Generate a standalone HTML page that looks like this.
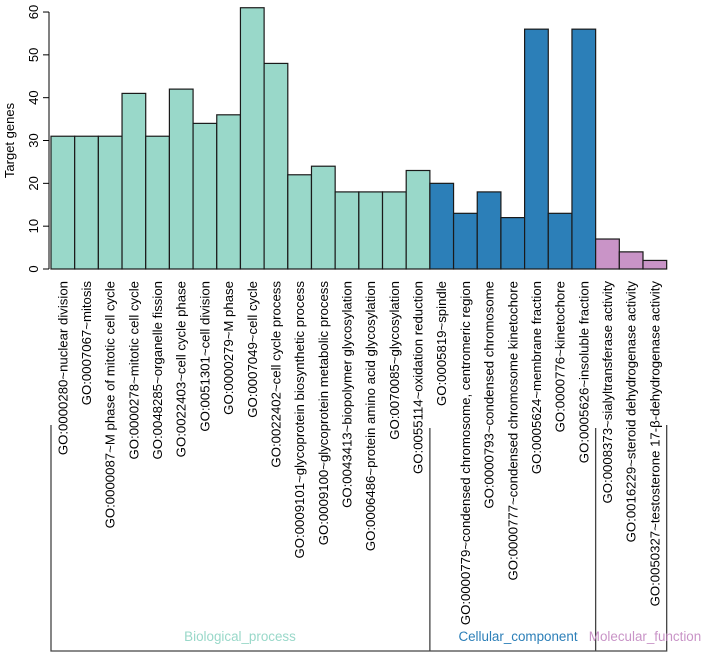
<!DOCTYPE html>
<html><head><meta charset="utf-8"><style>
html,body{margin:0;padding:0;background:#fff;}
svg{display:block;font-family:"Liberation Sans",Arial,sans-serif;}
</style></head><body>
<svg id="chart" width="703" height="659" viewBox="0 0 703 659" xmlns="http://www.w3.org/2000/svg"></svg>
<script>
const categories = ["GO:0000280~nuclear division","GO:0007067~mitosis","GO:0000087~M phase of mitotic cell cycle","GO:0000278~mitotic cell cycle","GO:0048285~organelle fission","GO:0022403~cell cycle phase","GO:0051301~cell division","GO:0000279~M phase","GO:0007049~cell cycle","GO:0022402~cell cycle process","GO:0009101~glycoprotein biosynthetic process","GO:0009100~glycoprotein metabolic process","GO:0043413~biopolymer glycosylation","GO:0006486~protein amino acid glycosylation","GO:0070085~glycosylation","GO:0055114~oxidation reduction","GO:0005819~spindle","GO:0000779~condensed chromosome, centromeric region","GO:0000793~condensed chromosome","GO:0000777~condensed chromosome kinetochore","GO:0005624~membrane fraction","GO:0000776~kinetochore","GO:0005626~insoluble fraction","GO:0008373~sialyltransferase activity","GO:0016229~steroid dehydrogenase activity","GO:0050327~testosterone 17-\u03b2-dehydrogenase activity"];
const values = [31,31,31,41,31,42,34,36,61,48,22,24,18,18,18,23,20,13,18,12,56,13,56,7,4,2];
const groups = ["BP","BP","BP","BP","BP","BP","BP","BP","BP","BP","BP","BP","BP","BP","BP","BP","CC","CC","CC","CC","CC","CC","CC","MF","MF","MF"];
const groupNames = {BP:"Biological_process",CC:"Cellular_component",MF:"Molecular_function"};
const yTicks = [0,10,20,30,40,50,60];

const colors = {BP:"#99D8C9",CC:"#2C7FB8",MF:"#C994C7"};
const NS="http://www.w3.org/2000/svg";
const svg=document.getElementById('chart');
const x0=51, bw=23.68, yBase=269, yPer=4.283;
const X=i=>x0+i*bw;
const Y=v=>yBase-v*yPer;
function mk(tag,attrs,parent){const e=document.createElementNS(NS,tag);for(const k in attrs)e.setAttribute(k,attrs[k]);(parent||svg).appendChild(e);return e;}

const ax=mk('line',{x1:49,x2:49,y1:Y(60),y2:Y(0),stroke:"#000","stroke-width":1});


yTicks.forEach(t=>{
  const tk=mk('line',{x1:43,x2:49,y1:Y(t),y2:Y(t),stroke:"#000"});
  
  
  const tl=mk('text',{x:0,y:0,transform:`translate(38,${Y(t)}) rotate(-90)`,"text-anchor":"middle","font-size":13,fill:"#000"});
  tl.textContent=t;
  
  
});
const yt=mk('text',{x:0,y:0,transform:`translate(14,${Y(30)}) rotate(-90)`,"text-anchor":"middle","font-size":13,fill:"#000"});
yt.textContent="Target genes";



values.forEach((v,i)=>{
  const r=mk('rect',{x:X(i),y:Y(v),width:bw,height:v*yPer,fill:colors[groups[i]],stroke:"#1a1a1a","stroke-width":1.2});
  
  
  const t=mk('text',{x:0,y:0,transform:`translate(${X(i)+bw/2+4.5},281) rotate(-90)`,"text-anchor":"end","font-size":13.2,fill:"#000"});
  t.textContent=categories[i];
  
  
});

const firstIdx={};
groups.forEach((g,i)=>{if(!(g in firstIdx))firstIdx[g]=i;});
const bottomY=651;
const outline=mk('path',{d:`M${X(0)},425 V${bottomY} H${X(values.length)} V425`,fill:"none",stroke:"#444","stroke-width":1.3});


["CC","MF"].forEach(g=>{
  const d=mk('line',{x1:X(firstIdx[g]),x2:X(firstIdx[g]),y1:428,y2:bottomY,stroke:"#444","stroke-width":1.3});
  
  
});
const labelX={BP:240,CC:518,MF:645};
["BP","CC","MF"].forEach(g=>{
  const t=mk('text',{x:labelX[g],y:641,"text-anchor":"middle","font-size":13.4,fill:colors[g]});
  t.textContent=groupNames[g];
  
  
});
</script>
</body></html>
